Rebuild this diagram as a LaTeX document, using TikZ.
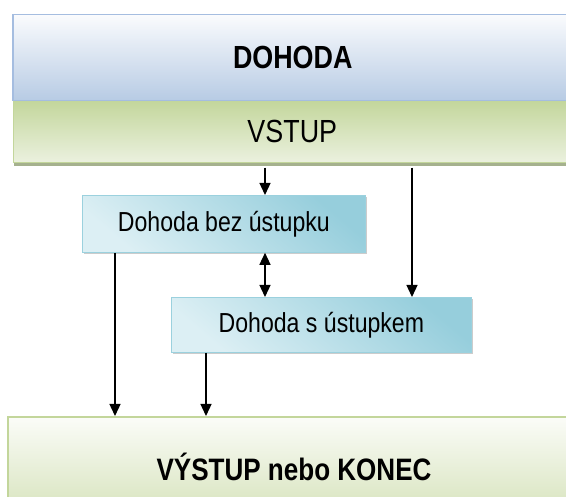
\documentclass[tikz,border=0pt]{standalone}
\usepackage{fontspec}
\setmainfont{Liberation Sans}[FakeStretch=0.84]
\usepackage{xcolor}
\usetikzlibrary{arrows.meta,shadows}

\definecolor{bluetop}{HTML}{FAFBFD}
\definecolor{bluebot}{HTML}{B7CBE4}
\definecolor{blueline}{HTML}{A5BDE0}
\definecolor{greendark}{HTML}{C3D69B}
\definecolor{greenlight}{HTML}{EBF1DF}
\definecolor{greenshadow}{HTML}{8E9E72}
\definecolor{cyandark}{HTML}{96CEDC}
\definecolor{cyanlight}{HTML}{DCEFF4}
\definecolor{cyanline}{HTML}{9BD1DE}
\definecolor{endtop}{HTML}{FBFCF8}
\definecolor{endbot}{HTML}{D6E3BB}

\tikzset{
    bar/.style={rectangle, anchor=north west, inner sep=0pt},
    headbar/.style={bar, draw=blueline, line width=1.5pt, top color=bluetop, bottom color=bluebot},
    inbar/.style={bar, draw=greendark, line width=0.6pt, top color=greendark, bottom color=greenlight,
        drop shadow={shadow xshift=1pt, shadow yshift=-4pt, fill=greenshadow, opacity=0.8}},
    stepbox/.style={bar, draw=cyanline, line width=0.8pt, top color=cyandark, bottom color=cyanlight,
        shading angle=-40, font=\fontsize{27.5}{30}\selectfont,
        drop shadow={shadow xshift=2pt, shadow yshift=-2pt, fill=black, opacity=0.2}},
    endbar/.style={bar, draw=greendark, line width=2pt, top color=endtop, bottom color=endbot},
    arr/.style={-{Triangle[width=11pt,length=12pt]}, line width=1.3pt},
    arrboth/.style={{Triangle[width=11pt,length=12pt]}-{Triangle[width=11pt,length=12pt]}, line width=1.3pt}
}

\begin{document}
\begin{tikzpicture}[x=1pt, y=-1pt]
    \useasboundingbox (0,0) rectangle (566,497);
    \clip (0,0) rectangle (566,497);

    % Top bars
    \node[inbar, minimum width=558pt, minimum height=62pt,
          font=\fontsize{32}{36}\selectfont] (vstup) at (13,100) {VSTUP};
    \node[headbar, minimum width=560pt, minimum height=86pt,
          font=\fontsize{32}{36}\selectfont\bfseries] (dohoda) at (12,14) {DOHODA};

    % The two kinds of agreement
    \node[stepbox, minimum width=283pt, minimum height=57pt] (bez) at (82,195) {Dohoda bez ústupku};
    \node[stepbox, minimum width=300pt, minimum height=55pt] (sust) at (171,297) {Dohoda s ústupkem};

    % Bottom bar
    \node[endbar, minimum width=572pt, minimum height=100pt,
          font=\fontsize{31}{34}\selectfont\bfseries] (vystup) at (7,416) {VÝSTUP nebo KONEC};

    % x positions of the connectors
    \coordinate (xa) at (265,0);
    \coordinate (xb) at (412,0);
    \coordinate (xc) at (115,0);
    \coordinate (xd) at (206,0);

    % Connectors
    \draw[arr] (vstup.south -| xa) ++(0,5) -- (bez.north -| xa);
    \draw[arr] (vstup.south -| xb) ++(0,5) -- (sust.north -| xb);
    \draw[arrboth] (bez.south -| xa) -- (sust.north -| xa);
    \foreach \src/\xx in {bez/xc, sust/xd} {
        \draw[arr] (\src.south -| \xx) -- (vystup.north -| \xx);
    }
\end{tikzpicture}
\end{document}
